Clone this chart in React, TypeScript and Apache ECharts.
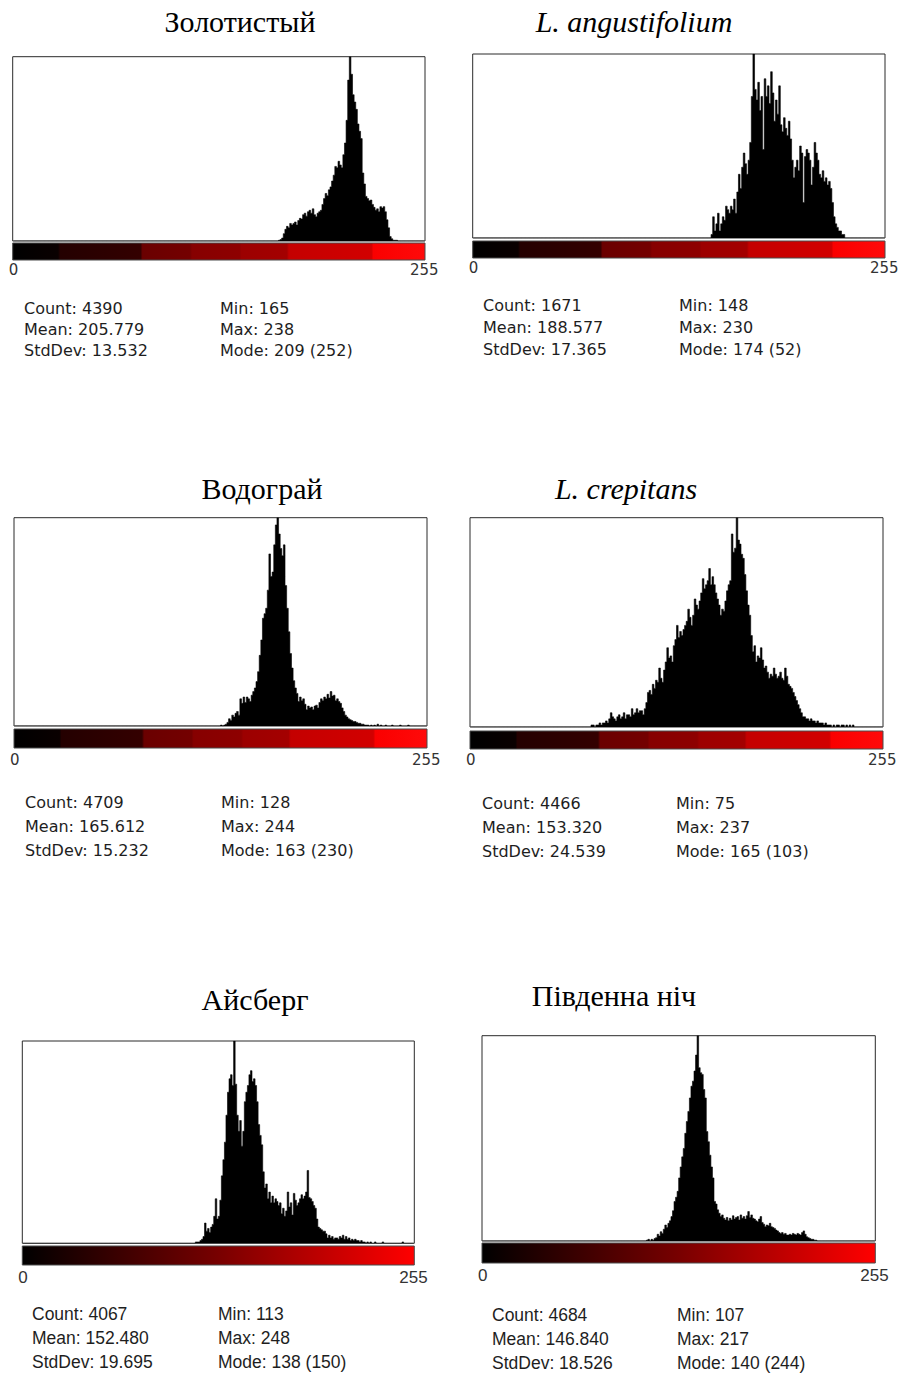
import React, { useEffect, useRef } from "react";
import * as echarts from "echarts";

// ---------- DATA ----------
const axisTickLabels = ["0", "255"];
const titles = ["Золотистый", "L. angustifolium", "Водограй", "L. crepitans", "Айсберг", "Південна ніч"];
const italicTitles = [false, true, false, true, false, false];

// Histogram counts: first bin value, then counts for consecutive bins
const zolotistyStart = 165;
const zolotistyCounts = [1, 2, 4, 10, 16, 20, 18, 24, 22, 24, 26, 22, 28, 31, 30, 36, 38, 34, 40, 42, 38, 44, 36, 33, 38, 40, 42, 50, 58, 65, 62, 70, 74, 82, 90, 102, 100, 109, 104, 100, 118, 134, 165, 220, 252, 228, 200, 190, 180, 160, 150, 140, 93, 78, 61, 58, 55, 56, 50, 46, 42, 44, 40, 47, 45, 47, 40, 29, 18, 6, 3, 1, 1, 1];

const angustifoliumStart = 148;
const angustifoliumCounts = [1, 6, 2, 4, 7, 2, 4, 6, 5, 9, 8, 7, 9, 8, 11, 7, 13, 18, 14, 20, 24, 21, 18, 22, 27, 40, 52, 42, 39, 44, 36, 40, 25, 45, 40, 43, 38, 47, 41, 33, 39, 35, 43, 32, 30, 34, 31, 29, 33, 28, 22, 17, 20, 22, 19, 26, 24, 10, 23, 25, 24, 22, 15, 20, 27, 24, 22, 18, 17, 19, 16, 17, 15, 16, 14, 10, 6, 4, 3, 2, 2, 1, 1];

const vodograyStart = 128;
const vodograyCounts = [1, 0, 1, 2, 4, 8, 6, 12, 10, 14, 16, 12, 30, 25, 32, 26, 32, 30, 27, 34, 38, 42, 49, 60, 78, 95, 119, 124, 130, 150, 190, 165, 170, 200, 222, 230, 212, 196, 188, 200, 155, 130, 104, 80, 64, 50, 42, 36, 27, 32, 28, 30, 24, 18, 22, 20, 21, 18, 22, 23, 20, 26, 30, 28, 32, 30, 35, 31, 38, 33, 34, 28, 30, 27, 25, 20, 16, 12, 10, 8, 7, 6, 5, 5, 4, 3, 3, 2, 2, 1, 1, 1, 0, 1, 0, 1, 0, 2, 0, 1, 0, 0, 1, 0, 0, 0, 1, 0, 0, 0, 0, 1, 0, 0, 0, 0, 1];

const crepitansStart = 75;
const crepitansCounts = [1, 1, 0, 1, 1, 2, 1, 2, 2, 3, 2, 4, 7, 5, 4, 3, 5, 6, 4, 5, 7, 4, 6, 6, 5, 9, 6, 7, 9, 7, 8, 8, 6, 9, 12, 17, 18, 16, 21, 19, 23, 22, 29, 24, 22, 28, 32, 39, 34, 35, 32, 40, 43, 50, 44, 47, 45, 48, 50, 52, 58, 54, 50, 55, 63, 60, 58, 62, 66, 73, 68, 70, 72, 78, 70, 74, 70, 66, 63, 60, 55, 58, 57, 62, 67, 70, 72, 95, 86, 88, 103, 92, 90, 85, 83, 75, 67, 60, 55, 45, 37, 40, 32, 35, 34, 39, 33, 29, 30, 27, 24, 26, 25, 29, 26, 24, 25, 27, 24, 23, 29, 25, 21, 20, 19, 17, 15, 13, 11, 9, 7, 5, 5, 4, 4, 3, 4, 3, 3, 2, 3, 2, 2, 2, 1, 2, 1, 1, 1, 0, 1, 0, 1, 1, 0, 1, 1, 0, 1, 0, 1, 0, 1];

const aysbergStart = 113;
const aysbergCounts = [1, 1, 1, 2, 3, 5, 15, 9, 11, 8, 12, 14, 20, 33, 18, 20, 32, 50, 62, 75, 95, 112, 122, 125, 117, 150, 118, 95, 83, 91, 72, 83, 105, 112, 117, 125, 128, 120, 122, 117, 105, 88, 80, 73, 53, 41, 44, 33, 38, 30, 35, 30, 33, 31, 28, 30, 22, 26, 20, 24, 38, 27, 30, 21, 37, 32, 28, 30, 33, 36, 33, 35, 38, 54, 34, 33, 31, 28, 26, 18, 12, 11, 10, 9, 9, 7, 4, 6, 4, 5, 3, 4, 4, 3, 5, 4, 6, 3, 5, 3, 4, 2, 3, 2, 3, 2, 2, 1, 2, 1, 1, 0, 1, 0, 1, 0, 0, 1, 0, 0, 0, 0, 1, 0, 0, 0, 0, 0, 0, 0, 0, 0, 0, 0, 0, 1];

const pivdennaStart = 107;
const pivdennaCounts = [1, 2, 0, 2, 1, 3, 4, 8, 6, 11, 9, 14, 19, 16, 21, 24, 29, 36, 47, 52, 59, 75, 88, 100, 110, 128, 142, 154, 170, 184, 190, 202, 221, 244, 206, 200, 198, 180, 170, 130, 118, 102, 88, 75, 47, 44, 37, 33, 29, 31, 27, 25, 28, 24, 27, 25, 30, 26, 28, 29, 25, 31, 27, 29, 26, 30, 35, 28, 31, 27, 26, 24, 23, 26, 29, 22, 20, 17, 19, 18, 21, 17, 16, 15, 13, 12, 10, 9, 10, 8, 9, 7, 7, 8, 7, 9, 8, 7, 9, 8, 7, 10, 12, 8, 5, 4, 3, 2, 2, 1, 1];

const statsLeft = [
  ["Count: 4390", "Mean: 205.779", "StdDev: 13.532"],
  ["Count: 1671", "Mean: 188.577", "StdDev: 17.365"],
  ["Count: 4709", "Mean: 165.612", "StdDev: 15.232"],
  ["Count: 4466", "Mean: 153.320", "StdDev: 24.539"],
  ["Count: 4067", "Mean: 152.480", "StdDev: 19.695"],
  ["Count: 4684", "Mean: 146.840", "StdDev: 18.526"],
];
const statsRight = [
  ["Min: 165", "Max: 238", "Mode: 209 (252)"],
  ["Min: 148", "Max: 230", "Mode: 174 (52)"],
  ["Min: 128", "Max: 244", "Mode: 163 (230)"],
  ["Min: 75", "Max: 237", "Mode: 165 (103)"],
  ["Min: 113", "Max: 248", "Mode: 138 (150)"],
  ["Min: 107", "Max: 217", "Mode: 140 (244)"],
];
const modeCounts = [252, 52, 230, 103, 150, 244];

const histStarts = [zolotistyStart, angustifoliumStart, vodograyStart, crepitansStart, aysbergStart, pivdennaStart];
const histCounts = [zolotistyCounts, angustifoliumCounts, vodograyCounts, crepitansCounts, aysbergCounts, pivdennaCounts];

// ---------- LAYOUT ----------
type Panel = {
  left: number; top: number; width: number; height: number;
  gradY: number; gradH: number; labelMargin: number;
  titleX: number; titleY: number;
  statX: number; statX2: number; statY: number[];
  smooth: boolean;
};
const panels: Panel[] = [
  { left: 12.7, top: 56.7, width: 412.3, height: 184.3, gradY: 243, gradH: 17, labelMargin: 21, titleX: 240, titleY: 21, statX: 24, statX2: 220, statY: [308, 329, 350], smooth: false },
  { left: 472.7, top: 54, width: 412.3, height: 184, gradY: 241, gradH: 17, labelMargin: 22, titleX: 634, titleY: 21, statX: 483, statX2: 679, statY: [305, 327, 349], smooth: false },
  { left: 14, top: 517.7, width: 413, height: 208.3, gradY: 729, gradH: 19, labelMargin: 26, titleX: 262, titleY: 488, statX: 25, statX2: 221, statY: [802, 826, 850], smooth: false },
  { left: 470, top: 517.7, width: 413, height: 209.3, gradY: 731, gradH: 18, labelMargin: 25, titleX: 626, titleY: 488, statX: 482, statX2: 676, statY: [803, 827, 851], smooth: false },
  { left: 22.3, top: 1041, width: 392, height: 202.3, gradY: 1246, gradH: 19, labelMargin: 26, titleX: 255, titleY: 999, statX: 32, statX2: 218, statY: [1314, 1338, 1362], smooth: true },
  { left: 482, top: 1035.7, width: 393.3, height: 205.3, gradY: 1243, gradH: 20, labelMargin: 26, titleX: 614, titleY: 995, statX: 492, statX2: 677, statY: [1315, 1339, 1363], smooth: true },
];

const binCategories = Array.from({ length: 256 }, (_, i) => String(i));

function expand(start: number, counts: number[]): number[] {
  const out = new Array(256).fill(0);
  counts.forEach((c, i) => { out[start + i] = c; });
  return out;
}

const steppedStops = [
  { offset: 0, color: "#000000" },
  { offset: 0.11, color: "#0a0000" },
  { offset: 0.115, color: "#240000" },
  { offset: 0.31, color: "#340000" },
  { offset: 0.315, color: "#6a0000" },
  { offset: 0.43, color: "#740000" },
  { offset: 0.435, color: "#860000" },
  { offset: 0.55, color: "#8e0000" },
  { offset: 0.555, color: "#9c0000" },
  { offset: 0.665, color: "#a40000" },
  { offset: 0.67, color: "#c40000" },
  { offset: 0.87, color: "#d20000" },
  { offset: 0.875, color: "#fa0000" },
  { offset: 1, color: "#ff0a0a" },
];
const smoothStops = [
  { offset: 0, color: "#000000" },
  { offset: 0.5, color: "#780000" },
  { offset: 1, color: "#ff0000" },
];

export default function App() {
  const ref = useRef<HTMLDivElement>(null);
  useEffect(() => {
    if (!ref.current) return;
    const chart = echarts.init(ref.current, null, { renderer: "svg" });

    const grids = panels.map((p) => ({
      left: p.left, top: p.top, width: p.width, height: p.height,
      show: true, borderColor: "#2a2a2a", borderWidth: 1, backgroundColor: "#ffffff",
      containLabel: false,
    }));

    const xAxes = panels.map((p, i) => ({
      type: "category", gridIndex: i, data: binCategories, boundaryGap: true,
      axisLine: { show: false }, axisTick: { show: false }, splitLine: { show: false },
      axisLabel: {
        show: true,
        interval: (idx: number) => idx === 0 || idx === 255,
        formatter: (v: string) => (v === "0" ? axisTickLabels[0] : axisTickLabels[1]),
        margin: p.labelMargin,
        color: "#333333",
        fontFamily: p.smooth ? "Liberation Sans" : "DejaVu Sans",
        fontSize: p.smooth ? 17 : 15,
        hideOverlap: false,
      },
    }));

    const yAxes = panels.map((_, i) => ({
      type: "value", gridIndex: i, min: 0, max: modeCounts[i], show: false,
      splitLine: { show: false },
    }));

    const series = panels.map((_, i) => ({
      type: "line", xAxisIndex: i, yAxisIndex: i,
      data: expand(histStarts[i], histCounts[i]),
      step: "middle",
      symbol: "none",
      lineStyle: { color: "#000000", width: 0.6 },
      areaStyle: { color: "#000000", opacity: 1, origin: "start" },
      emphasis: { disabled: true },
      silent: true,
      clip: true,
    }));

    const graphics: any[] = [];
    panels.forEach((p, i) => {
      graphics.push({
        type: "rect",
        shape: { x: p.left, y: p.gradY, width: p.width, height: p.gradH },
        style: {
          fill: new echarts.graphic.LinearGradient(0, 0, 1, 0, p.smooth ? smoothStops : steppedStops),
          stroke: "#4a4a4a", lineWidth: 1,
        },
        silent: true,
      });
      graphics.push({
        type: "text", x: p.titleX, y: p.titleY,
        style: {
          text: titles[i], fill: "#000000",
          font: `${italicTitles[i] ? "italic " : ""}30px "Liberation Serif"`,
          textAlign: "center", textVerticalAlign: "middle",
        },
        silent: true,
      });
      const statFont = p.smooth ? '17.5px "Liberation Sans"' : '16px "DejaVu Sans"';
      statsLeft[i].forEach((t, k) => {
        graphics.push({
          type: "text", x: p.statX, y: p.statY[k],
          style: { text: t, fill: "#1e1e1e", font: statFont, textAlign: "left", textVerticalAlign: "middle" },
          silent: true,
        });
      });
      statsRight[i].forEach((t, k) => {
        graphics.push({
          type: "text", x: p.statX2, y: p.statY[k],
          style: { text: t, fill: "#1e1e1e", font: statFont, textAlign: "left", textVerticalAlign: "middle" },
          silent: true,
        });
      });
    });

    chart.setOption({
      animation: false,
      backgroundColor: "#ffffff",
      grid: grids,
      xAxis: xAxes,
      yAxis: yAxes,
      series,
      graphic: graphics,
    } as any);

    return () => chart.dispose();
  }, []);

  return (
    <div
      ref={ref}
      style={{ position: "absolute", left: 0, top: 0, width: 904, height: 1375 }}
    />
  );
}
